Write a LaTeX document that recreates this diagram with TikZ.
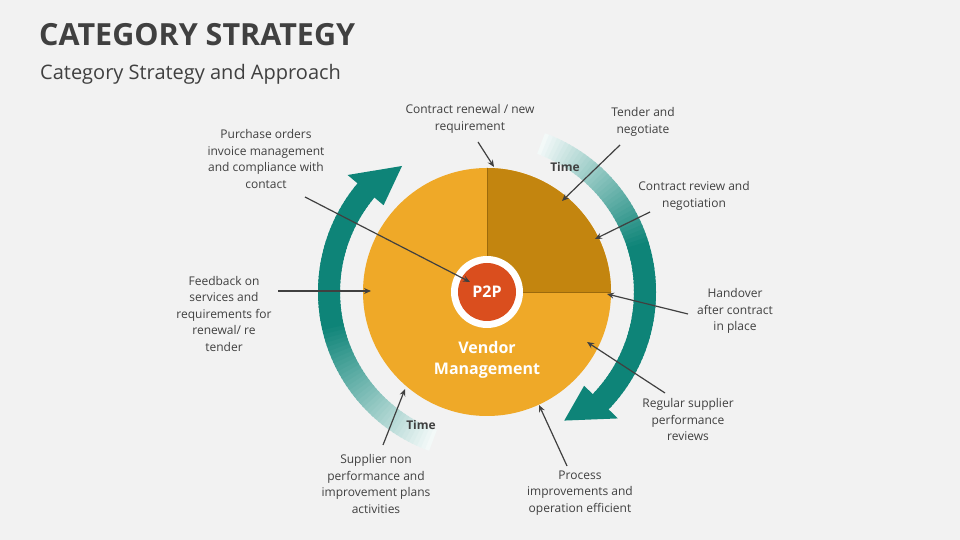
\documentclass[tikz,border=0pt]{standalone}
\usepackage{fontspec}
\setmainfont{Open Sans}
\usetikzlibrary{arrows.meta,calc}
\definecolor{bg}{HTML}{F2F2F2}
\definecolor{tealc}{HTML}{0E8478}
\definecolor{pieA}{HTML}{EFA928}
\definecolor{pieB}{HTML}{C3850F}
\definecolor{redc}{HTML}{DA4E1E}
\definecolor{txt}{HTML}{404040}
\tikzset{
 lbl/.style={align=center,text=txt,font=\fontsize{12}{16.5}\selectfont,inner sep=0},
 ptr/.style={draw=txt,line width=1.2pt,-{Stealth[length=7pt,width=6pt]}},
 wtxt/.style={text=white,font=\bfseries\fontsize{16}{21}\selectfont,align=center},
}
\begin{document}
\begin{tikzpicture}[x=1pt,y=1pt]
\fill[bg] (0,0) rectangle (960,540);
\useasboundingbox (0,0) rectangle (960,540);
\node[anchor=base west,text=txt,font=\bfseries\fontsize{30.5}{36}\selectfont,inner sep=0] (title) at (39,494) {CATEGORY STRATEGY};
\node[anchor=base west,text=txt,font=\fontsize{20}{24}\selectfont,inner sep=0] (sub) at (40,460) {Category Strategy and Approach};
\coordinate (c) at (487,248);
% right arrow
\foreach \a in {70,68.5,...,-45}{
 \pgfmathsetmacro\p{min(100,(70-\a)/55*100+5)}
 \draw[line width=22pt,color=tealc!\p!white] (c) ++(\a:158) arc[start angle=\a,end angle=\a-2.2,radius=158];
}
\fill[tealc] ($(c)+(-44:135)$) -- ($(c)+(-44:182)$) -- ($(c)+(-59:150)$) -- cycle;
% left arrow
\foreach \a in {250,248.5,...,141}{
 \pgfmathsetmacro\p{min(100,(250-\a)/60*100+5)}
 \draw[line width=22pt,color=tealc!\p!white] (c) ++(\a:158) arc[start angle=\a,end angle=\a-2.2,radius=158];
}
\fill[tealc] ($(c)+(140:135)$) -- ($(c)+(140:182)$) -- ($(c)+(124:152)$) -- cycle;
% pie
\fill[pieA] (c) circle[radius=124];
\fill[pieB] (c) -- ++(0:124) arc[start angle=0,end angle=90,radius=124] -- cycle;
\draw[pieB!80!black,line width=0.6pt] (c) -- ++(90:124) (c) -- ++(0:124);
\node[circle,fill=white,minimum size=72pt,inner sep=0] (ring) at (c) {};
\node[circle,fill=redc,minimum size=58pt,inner sep=0,wtxt] (p2p) at (c) {P2P};
\node[wtxt] (vm) at (487,180) {Vendor\\Management};
\node[text=txt,font=\bfseries\fontsize{12}{14}\selectfont] (t1) at (565,373) {Time};
\node[text=txt,font=\bfseries\fontsize{12}{14}\selectfont] (t2) at (421,115) {Time};
% labels
\node[lbl] (l1) at (470,421) {Contract renewal / new\\requirement};
\node[lbl] (l2) at (643,418) {Tender and\\negotiate};
\node[lbl] (l3) at (694,344) {Contract review and\\negotiation};
\node[lbl] (l4) at (735,229) {Handover\\after contract\\in place};
\node[lbl] (l5) at (688,120) {Regular supplier\\performance\\reviews};
\node[lbl] (l6) at (580,47) {Process\\improvements and\\operation efficient};
\node[lbl] (l7) at (376,56) {Supplier non\\performance and\\improvement plans\\activities};
\node[lbl] (l8) at (224,226) {Feedback on\\services and\\requirements for\\renewal/ re\\tender};
\node[lbl] (l9) at (266,381) {Purchase orders\\invoice management\\and compliance with\\contact};
\coordinate (e1) at (494,373); \coordinate (s1) at (478,398);
\coordinate (e2) at (562,339); \coordinate (s2) at (620,395);
\coordinate (e3) at (595,301); \coordinate (s3) at (650,328);
\coordinate (e4) at (607,246); \coordinate (s4) at (688,226);
\coordinate (e5) at (587,198); \coordinate (s5) at (665,147);
\coordinate (e6) at (539,135); \coordinate (s6) at (567,74);
\coordinate (e7) at (405,151); \coordinate (s7) at (383,95);
\coordinate (e8) at (371,249); \coordinate (s8) at (278,249);
\coordinate (e9) at (470,258); \coordinate (s9) at (305,343);
\foreach \i in {1,...,9}{\draw[ptr] (s\i) -- (e\i);}
\end{tikzpicture}
\end{document}
